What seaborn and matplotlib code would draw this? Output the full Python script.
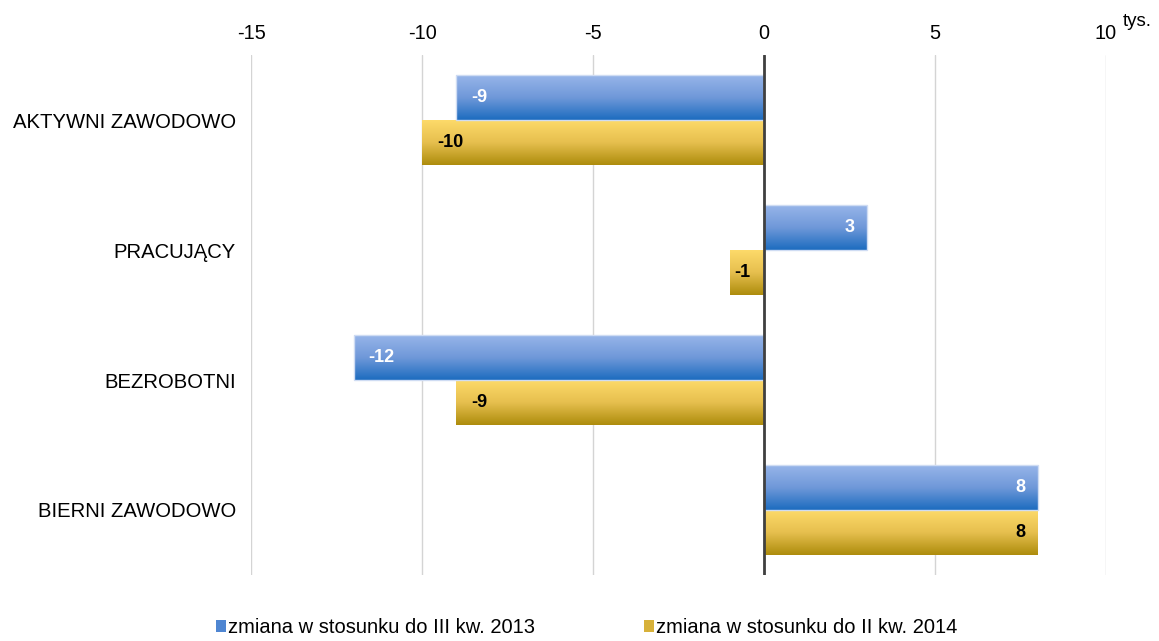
import numpy as np
import pandas as pd
import matplotlib.pyplot as plt
import seaborn as sns
from matplotlib.colors import LinearSegmentedColormap
from matplotlib.patches import Patch

# Data (tys. osób)
categories = ['AKTYWNI ZAWODOWO', 'PRACUJĄCY', 'BEZROBOTNI', 'BIERNI ZAWODOWO']
series_names = ['zmiana w stosunku do III kw. 2013', 'zmiana w stosunku do II kw. 2014']
change_vs_q3_2013 = [-9, 3, -12, 8]
change_vs_q2_2014 = [-10, -1, -9, 8]
x_ticks = [-15, -10, -5, 0, 5, 10]

df = pd.DataFrame({
    'kategoria': categories * 2,
    'seria': [series_names[0]] * 4 + [series_names[1]] * 4,
    'wartosc': change_vs_q3_2013 + change_vs_q2_2014,
})

sns.set_style('white')
plt.rcParams['font.family'] = ['Liberation Sans', 'DejaVu Sans']
plt.rcParams['text.color'] = 'black'
plt.rcParams['xtick.color'] = 'black'
plt.rcParams['ytick.color'] = 'black'

fig = plt.figure(figsize=(11.59, 6.41), dpi=100)
ax = fig.add_axes([0.2166, 0.103, 0.7377, 0.811])

palette = {series_names[0]: '#5a8fd6', series_names[1]: '#dcb83a'}
sns.barplot(data=df, x='wartosc', y='kategoria', hue='seria', orient='h',
            palette=palette, width=0.69, ax=ax, legend=False, zorder=2)

# gradients for each series (top light -> bottom dark)
grad_maps = [
    LinearSegmentedColormap.from_list('blue', ['#97b5e9', '#6f98d9', '#1c6cbf']),
    LinearSegmentedColormap.from_list('gold', ['#fdda6a', '#e6bf4e', '#ad8c0c']),
]
edge_colors = ['#cfdcf3', 'none']
text_colors = ['white', 'black']
gradient = np.linspace(0, 1, 256).reshape(-1, 1)

px_per_unit = 855 / 25.0
for i, container in enumerate(ax.containers):
    for patch, val in zip(container.patches, container.datavalues):
        x0 = patch.get_x()
        y0 = patch.get_y()
        w = patch.get_width()
        h = patch.get_height()
        patch.set_facecolor('none')
        patch.set_edgecolor(edge_colors[i])
        patch.set_linewidth(1.0)
        im = ax.imshow(gradient, cmap=grad_maps[i], aspect='auto',
                       extent=(x0, x0 + w, y0 + h, y0), zorder=1.5)
        im.set_clip_path(patch)
        if abs(val) * px_per_unit < 50:
            xy, off, ha = (val, y0 + h / 2), (4, 0), 'left'
        elif val > 0:
            xy, off, ha = (val, y0 + h / 2), (-12, 0), 'right'
        else:
            xy, off, ha = (val, y0 + h / 2), (15, 0), 'left'
        ax.annotate(f'{int(val)}', xy=xy, xytext=off, textcoords='offset pixels',
                    ha=ha, va='center', fontsize=13, fontweight='bold',
                    color=text_colors[i], zorder=4)

ax.set_xlim(-15, 10)
ax.set_ylim(3.5, -0.5)
ax.set_xticks(x_ticks)
ax.set_xticklabels([str(t) for t in x_ticks], fontsize=14.3)
ax.xaxis.tick_top()
ax.tick_params(axis='x', length=0, pad=9)
ax.tick_params(axis='y', length=0, pad=11, labelsize=14.6)
ax.set_xlabel('')
ax.set_ylabel('')
ax.grid(axis='x', color='#d4d4d4', linewidth=1, zorder=0)
ax.set_axisbelow(True)
for s in ax.spines.values():
    s.set_visible(False)
ax.axvline(0, color='#404040', linewidth=2, zorder=3)

fig.text(0.981, 0.966, 'tys.', fontsize=13.5, ha='center', va='center')

handles = [Patch(facecolor='#4f86d2', edgecolor='none'),
           Patch(facecolor='#d7b13a', edgecolor='none')]
fig.legend(handles, series_names, loc='center', ncol=2, frameon=False,
           bbox_to_anchor=(0.506, 0.021), fontsize=14.5, handlelength=0.5,
           handleheight=0.5, handletextpad=0.1, columnspacing=5.4,
           borderpad=0)

fig.savefig('out.png', dpi=100)
